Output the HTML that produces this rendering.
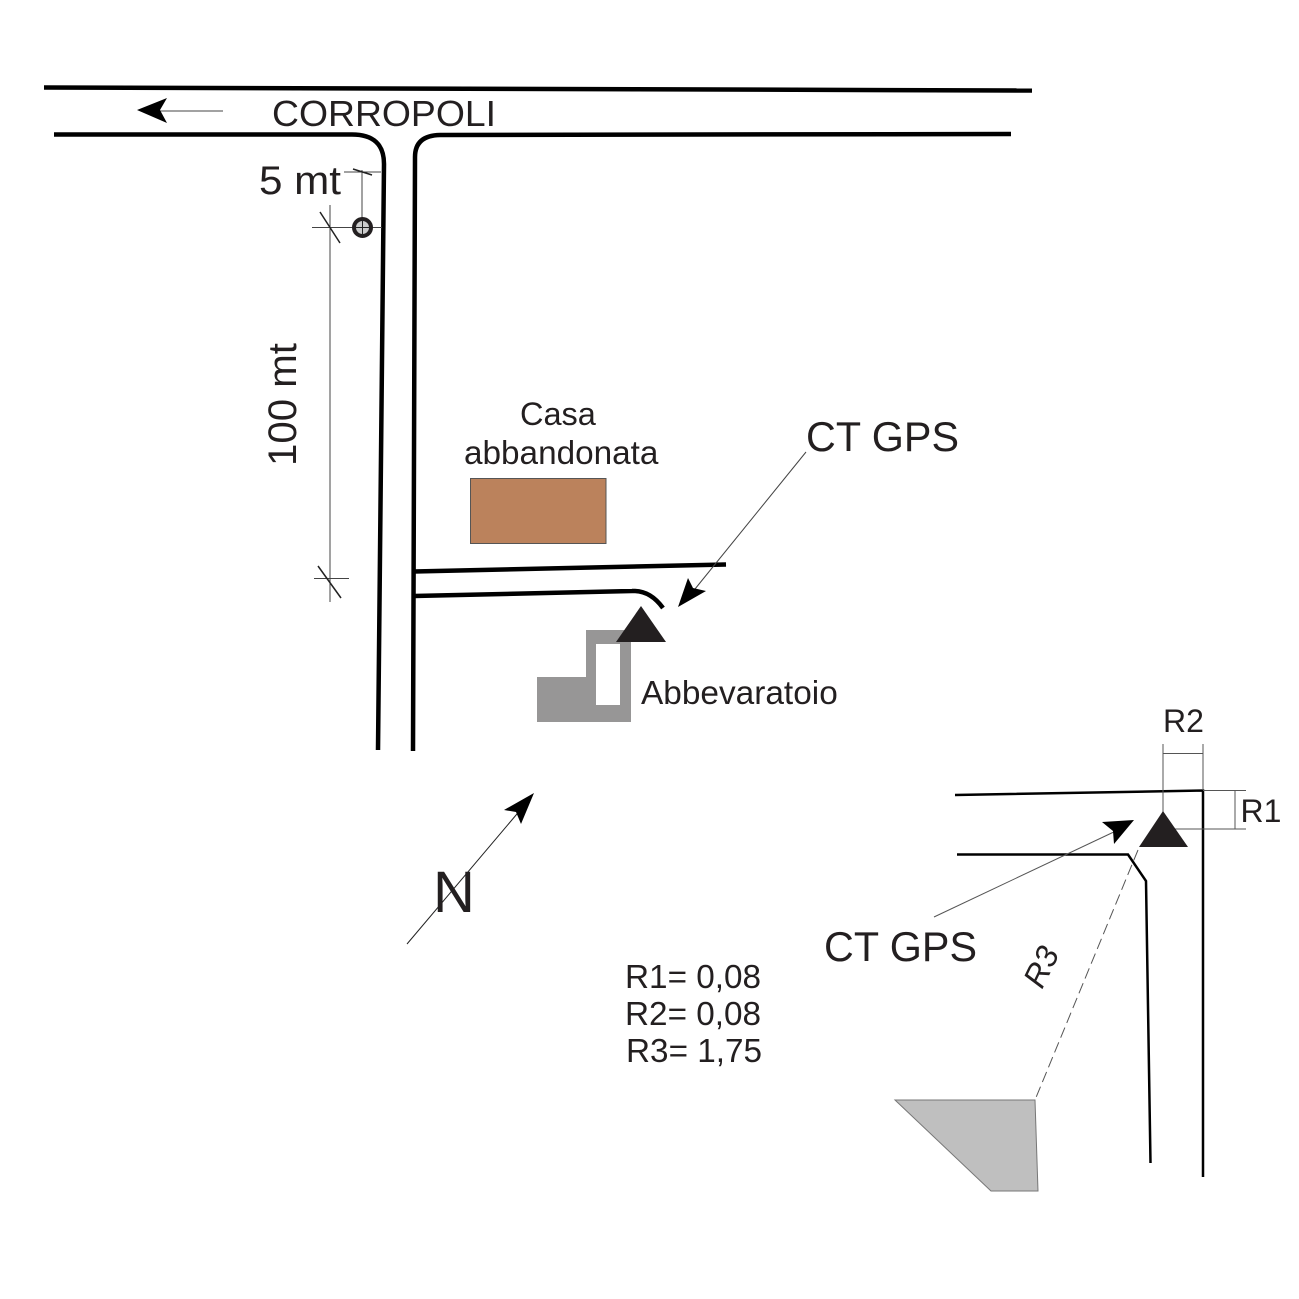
<!DOCTYPE html>
<html><head><meta charset="utf-8"><style>html,body{margin:0;padding:0;background:#fff}svg{display:block}text{font-family:"Liberation Sans",sans-serif;fill:#231f20}</style></head><body>
<svg width="1299" height="1299" viewBox="0 0 1299 1299" xmlns="http://www.w3.org/2000/svg">
<rect width="1299" height="1299" fill="#fff"/>
<g fill="none" stroke="#000" stroke-width="4.500">
<path d="M44 87.500L1032 90.500"/>
<path d="M54 134.500H352Q384 134.500 384 164L378 750"/>
<path d="M1011 134L440 135Q415 135.500 415 157L413 751"/>
<path d="M414 571.500L726 564.500" />
<path d="M414 596L632 591Q650 590 663 608"/>
</g>
<!-- house -->
<rect x="470.500" y="478.500" width="135.500" height="65" fill="#bb825c" stroke="#555" stroke-width="1"/>
<!-- trough -->
<path d="M586 630H631V722H537V677H586ZM596 644V705H620V644Z" fill="#979696" fill-rule="evenodd"/>
<path d="M641 606L616 642H666Z" fill="#231f20"/>
<!-- dimensions -->
<g fill="none" stroke="#444" stroke-width="1">
<path d="M344 172H381M362 170V228M312 227.500H382M330 205V602M314 578.500H349"/>
<path d="M223 111H160"/>
<path d="M806 452L695 589"/>
</g>
<g fill="none" stroke="#222" stroke-width="1.500">
<path d="M353 169L372 175M320 212L340 243M318 566L341 598"/>
</g>
<circle cx="362.500" cy="227.500" r="8.500" fill="#ccc" stroke="#231f20" stroke-width="4"/>
<path d="M362.500 219V236M355 227.500H370" stroke="#222" stroke-width="1"/>
<!-- arrows -->
<path d="M137 110L167 98L160 110L167 123Z" fill="#000"/>
<path d="M706 591L678 607L688 578L693 588Z" fill="#000"/>
<path d="M407 944L522 808" stroke="#222" stroke-width="1" fill="none"/>
<path d="M534 793L504 810L516 812L521 824Z" fill="#000"/>
<!-- detail -->
<g fill="none" stroke="#000" stroke-width="2.500">
<path d="M955 795L1203 790.500V1177"/>
<path d="M957 854.500H1128L1146 881L1150.500 1163"/>
</g>
<g fill="none" stroke="#555" stroke-width="1">
<path d="M1163 744V812M1203 744V790M1163 753.500H1203M1203 790.500H1246M1170 829H1246M1235 790.500V829"/>
<path d="M934 917L1118 830"/>
<path d="M1138 850L1035 1100" stroke-dasharray="11 5"/>
</g>
<path d="M1134 820L1102 822L1113 831L1114 844Z" fill="#000"/>
<path d="M1163 811L1139 847H1188Z" fill="#231f20"/>
<path d="M895 1100H1035L1038 1191H991Z" fill="#bfbfbf" stroke="#777" stroke-width="1"/>
<!-- labels -->
<text x="272" y="126" font-size="36" textLength="224" lengthAdjust="spacingAndGlyphs">CORROPOLI</text>
<text x="259" y="194" font-size="40" textLength="82" lengthAdjust="spacingAndGlyphs">5 mt</text>
<text transform="translate(296 466) rotate(-90)" font-size="40" textLength="123" lengthAdjust="spacingAndGlyphs">100 mt</text>
<text x="520" y="425" font-size="32.500">Casa</text>
<text x="464" y="464" font-size="33.300">abbandonata</text>
<text x="806" y="451" font-size="41.300">CT GPS</text>
<text x="641" y="704" font-size="33.400">Abbevaratoio</text>
<text x="433" y="912" font-size="58">N</text>
<text x="824" y="961" font-size="41.300">CT GPS</text>
<text x="1163" y="732" font-size="32">R2</text>
<text x="1240.500" y="822" font-size="32">R1</text>
<text x="625" y="988" font-size="33.300">R1= 0,08</text>
<text x="625" y="1025" font-size="33.300">R2= 0,08</text>
<text x="626" y="1062" font-size="33.300">R3= 1,75</text>
<text transform="translate(1042 990) rotate(-64)" font-size="32" font-style="italic">R3</text>
</svg>
</body></html>
